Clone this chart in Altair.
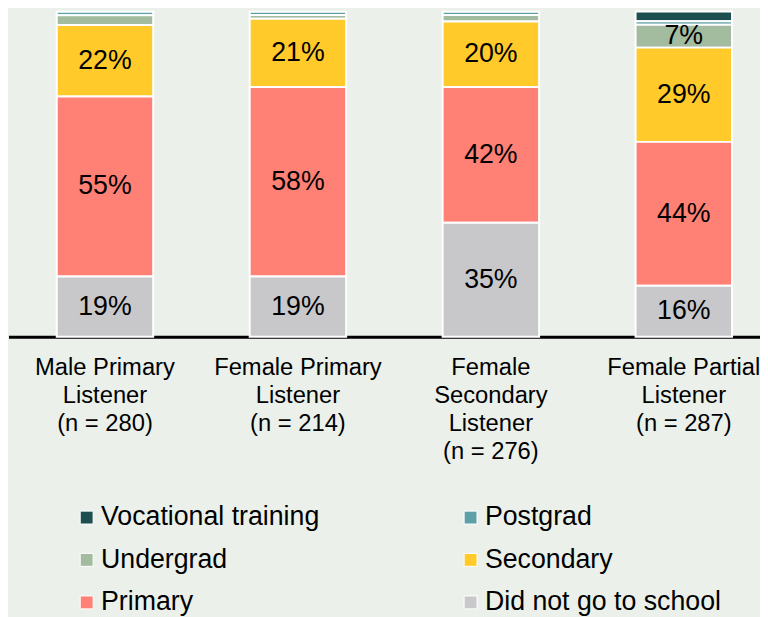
import altair as alt
import pandas as pd

groups = [
    "Male Primary|Listener|(n = 280)",
    "Female Primary|Listener|(n = 214)",
    "Female|Secondary|Listener|(n = 276)",
    "Female Partial|Listener|(n = 287)",
]
levels = ["Vocational training", "Postgrad", "Undergrad", "Secondary", "Primary", "Did not go to school"]
colors = ["#1d4f51", "#5ea0a7", "#a3bb9f", "#ffca2a", "#ff8075", "#c8c8cb"]

did_not_go = [18.55, 18.55, 35.05, 15.7]
primary = [55.35, 58.3, 41.8, 44.25]
secondary = [22.0, 21.0, 20.1, 29.0]
undergrad = [3.0, 1.15, 2.05, 7.06]
postgrad = [1.06, 0.97, 0.97, 1.06]
vocational = [0.0, 0.0, 0.0, 2.96]

series = [vocational, postgrad, undergrad, secondary, primary, did_not_go]
rows = []
for li, (lev, vals) in enumerate(zip(levels, series)):
    for g, v in zip(groups, vals):
        rows.append({"group": g, "level": lev, "value": v, "idx": len(levels) - 1 - li})
df = pd.DataFrame(rows)
df = df[df["value"] > 0]

FONT = "Liberation Sans"

xscale = alt.Scale(range=[0.5, 780.5], paddingInner=0.5, paddingOuter=0.25)
yscale = alt.Scale(domain=[0, 100], range=[329, 0.5], nice=False, zero=True)

xaxis = alt.Axis(
    title=None,
    labelAngle=0,
    ticks=False,
    domainColor="black",
    domainWidth=3,
    labelExpr="split(datum.label, '|')",
    labelFont=FONT,
    labelFontSize=24,
    labelColor="black",
    labelLineHeight=28.5,
    labelPadding=19,
    labelBaseline="top",
    labelLimit=0,
)

base = alt.Chart(df)

bars = base.mark_bar(stroke="white", strokeWidth=2).encode(
    x=alt.X("group:N", sort=groups, scale=xscale, axis=xaxis),
    y=alt.Y("value:Q", stack="zero", scale=yscale, axis=None),
    color=alt.Color(
        "level:N",
        scale=alt.Scale(domain=levels, range=colors),
        legend=alt.Legend(
            title=None,
            orient="none",
            direction="horizontal",
            legendX=66,
            legendY=498,
            columns=2,
            columnPadding=139,
            rowPadding=15,
            symbolType="square",
            symbolSize=170,
            symbolStrokeColor="white",
            symbolStrokeWidth=1,
            symbolOpacity=1,
            labelFont=FONT,
            labelFontSize=27,
            labelColor="black",
            labelLimit=0,
            labelOffset=1,
            padding=0,
            offset=0,
        ),
    ),
    order=alt.Order("idx:Q", sort="ascending"),
)

labels = (
    base.transform_stack(
        stack="value",
        groupby=["group"],
        sort=[alt.SortField("idx", order="ascending")],
        as_=["v0", "v1"],
    )
    .transform_calculate(mid="(datum.v0 + datum.v1) / 2", lab="format(datum.value, '.0f') + '%'")
    .transform_filter("datum.value >= 5")
    .mark_text(font=FONT, fontSize=27, color="black", baseline="middle", align="center")
    .encode(
        x=alt.X("group:N", sort=groups, scale=xscale, axis=xaxis),
        y=alt.Y("mid:Q", scale=yscale, axis=None),
        text="lab:N",
    )
)

chart = (
    alt.layer(bars, labels)
    .properties(
        width=760,
        height=329,
        background="#ebf0ea",
        autosize=alt.AutoSizeParams(type="none"),
        padding={"left": 0, "top": 0, "right": 0, "bottom": 280},
    )
    .configure_view(stroke=None)
)

chart.save("out.html", embed_options={"renderer": "svg", "actions": False})
